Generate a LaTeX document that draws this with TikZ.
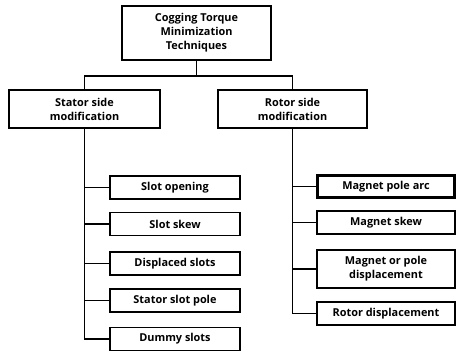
\documentclass[tikz,border=0pt]{standalone}
\usepackage{fontspec}
\setsansfont{Open Sans}
\tikzset{
  box/.style={draw, line width=1.5pt, align=center, inner sep=1pt,
    font=\sffamily\bfseries\fontsize{10.9}{14}\selectfont},
  link/.style={line width=1.5pt}
}
\begin{document}
\begin{tikzpicture}[x=1pt,y=-1pt]
  \useasboundingbox (0,0) rectangle (457,351);
  \node[box, minimum width=149pt, minimum height=54pt] (top) at (196.5,33) {Cogging Torque\\Minimization\\Techniques};
  \node[box, minimum width=151pt, minimum height=38pt] (stator) at (84.5,109) {Stator side\\modification};
  \node[box, minimum width=149pt, minimum height=38pt] (rotor) at (292.5,109) {Rotor side\\modification};
  % stator side
  \node[box, minimum width=130pt, minimum height=23pt] (sopen) at (175,187.5) {Slot opening};
  \node[box, minimum width=130pt, minimum height=23pt] (sskew) at (175,224) {Slot skew};
  \node[box, minimum width=130pt, minimum height=23pt] (sdisp) at (175,263.5) {Displaced slots};
  \node[box, minimum width=130pt, minimum height=23pt] (spole) at (175,300.5) {Stator slot pole};
  \node[box, minimum width=130pt, minimum height=23pt] (sdummy) at (175,339) {Dummy slots};
  % rotor side
  \node[box, line width=2.8pt, minimum width=137pt, minimum height=22pt] (rarc) at (386,186.5) {Magnet pole arc};
  \node[box, minimum width=138pt, minimum height=23pt] (rskew) at (386,222.5) {Magnet skew};
  \node[box, minimum width=138pt, minimum height=38pt] (rdisp) at (386,269) {Magnet or pole\\displacement};
  \node[box, minimum width=138pt, minimum height=23pt] (rrot) at (386,313.5) {Rotor displacement};
  \draw[link] (top.south) -- ++(0,15) coordinate (split);
  \draw[link] (split) -| (stator.north);
  \draw[link] (split) -| (rotor.north);
  \foreach \n in {sopen,sskew,sdisp,spole,sdummy}
    \draw[link] (stator.south) |- (\n.west);
  \foreach \n in {rarc,rskew,rdisp,rrot}
    \draw[link] (rotor.south) |- (\n.west);
\end{tikzpicture}
\end{document}
